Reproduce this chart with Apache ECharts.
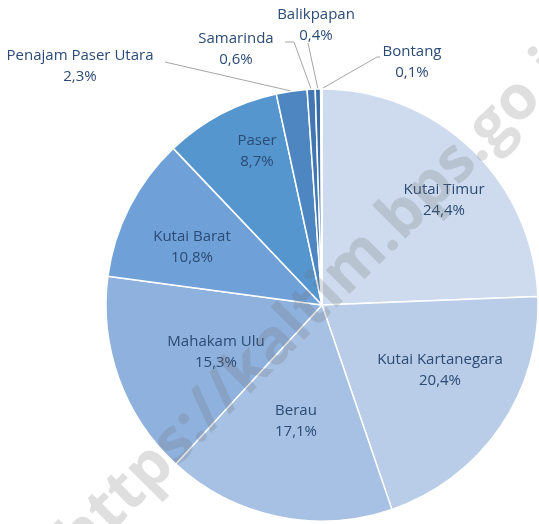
<!DOCTYPE html>
<html>
<head>
<meta charset="utf-8">
<script src="https://cdn.jsdelivr.net/npm/echarts@6/dist/echarts.min.js"></script>
<style>
  html, body { margin: 0; padding: 0; background: #fff; }
  #chart { width: 539px; height: 524px; }
</style>
</head>
<body>
<div id="chart"></div>
<script>
// share of each kabupaten/kota (%)
const regions = ['Kutai Timur', 'Kutai Kartanegara', 'Berau', 'Mahakam Ulu', 'Kutai Barat',
  'Paser', 'Penajam Paser Utara', 'Samarinda', 'Balikpapan', 'Bontang']
const shares = [24.4, 20.4, 17.1, 15.3, 10.8, 8.7, 2.3, 0.6, 0.4, 0.1]
const sliceColors = ['#cedbee', '#b9cde8', '#a6c1e4', '#8fb1dd', '#6fa1d8',
  '#5596cf', '#4d86c0', '#4277b3', '#3a6ca6', '#2f5f98']
const outsideLabels = ['Penajam Paser Utara', 'Samarinda', 'Balikpapan', 'Bontang']

// label placement (layout only): text centre and leader-line bends
const labelSpots = {
  'Kutai Timur': { x: 444, y: 200 },
  'Kutai Kartanegara': { x: 440, y: 370 },
  'Berau': { x: 296, y: 421 },
  'Mahakam Ulu': { x: 216, y: 352 },
  'Kutai Barat': { x: 192, y: 247 },
  'Paser': { x: 257, y: 151 },
  'Penajam Paser Utara': { x: 80, y: 66, line: [[165, 62], [165, 62]] },
  'Samarinda': { x: 236, y: 49, line: [[294, 42], [285, 42]] },
  'Balikpapan': { x: 316, y: 25, line: [[308, 43], [308, 43]] },
  'Bontang': { x: 412, y: 62, line: [[377, 57], [380, 57]] },
}

const chart = echarts.init(document.getElementById('chart'))

const fmt = (v) => v.toFixed(1).replace('.', ',') + '%'

chart.setOption({
  backgroundColor: '#fff',
  animation: false,
  series: [
    {
      type: 'pie',
      center: [322, 305],
      radius: [0, 216],
      startAngle: 90,
      clockwise: true,
      avoidLabelOverlap: false,
      itemStyle: { borderColor: '#fff', borderWidth: 1.5 },
      label: {
        show: true,
        position: 'outside',
        alignTo: 'none',
        formatter: (p) => p.name + '\n' + fmt(p.value),
        color: '#2b4b74',
        fontFamily: 'Open Sans',
        fontSize: 15,
        lineHeight: 21,
        overflow: 'none',
      },
      labelLine: {
        show: true,
        length: 14,
        length2: 10,
        lineStyle: { color: '#a6a6a6', width: 1 },
      },
      labelLayout: (params) => {
        const name = regions[params.dataIndex]
        const spot = labelSpots[name]
        const res = { x: spot.x, y: spot.y, align: 'center', verticalAlign: 'middle' }
        if (spot.line && params.labelLinePoints) {
          res.labelLinePoints = [params.labelLinePoints[0]].concat(spot.line)
        }
        return res
      },
      emphasis: { disabled: true },
      data: regions.map((name, i) => ({
        name: name,
        value: shares[i],
        itemStyle: { color: sliceColors[i] },
        labelLine: { show: outsideLabels.indexOf(name) >= 0 },
      })),
    },
  ],
  graphic: [
    {
      type: 'text',
      x: 327,
      y: 292,
      rotation: Math.PI * 45 / 180,
      z: 100,
      style: {
        text: 'https://kaltim.bps.go.id',
        font: 'bold 62px "Open Sans"',
        fill: 'rgba(110,110,110,0.22)',
        align: 'center',
        verticalAlign: 'middle',
      },
    },
  ],
})
</script>
</body>
</html>
